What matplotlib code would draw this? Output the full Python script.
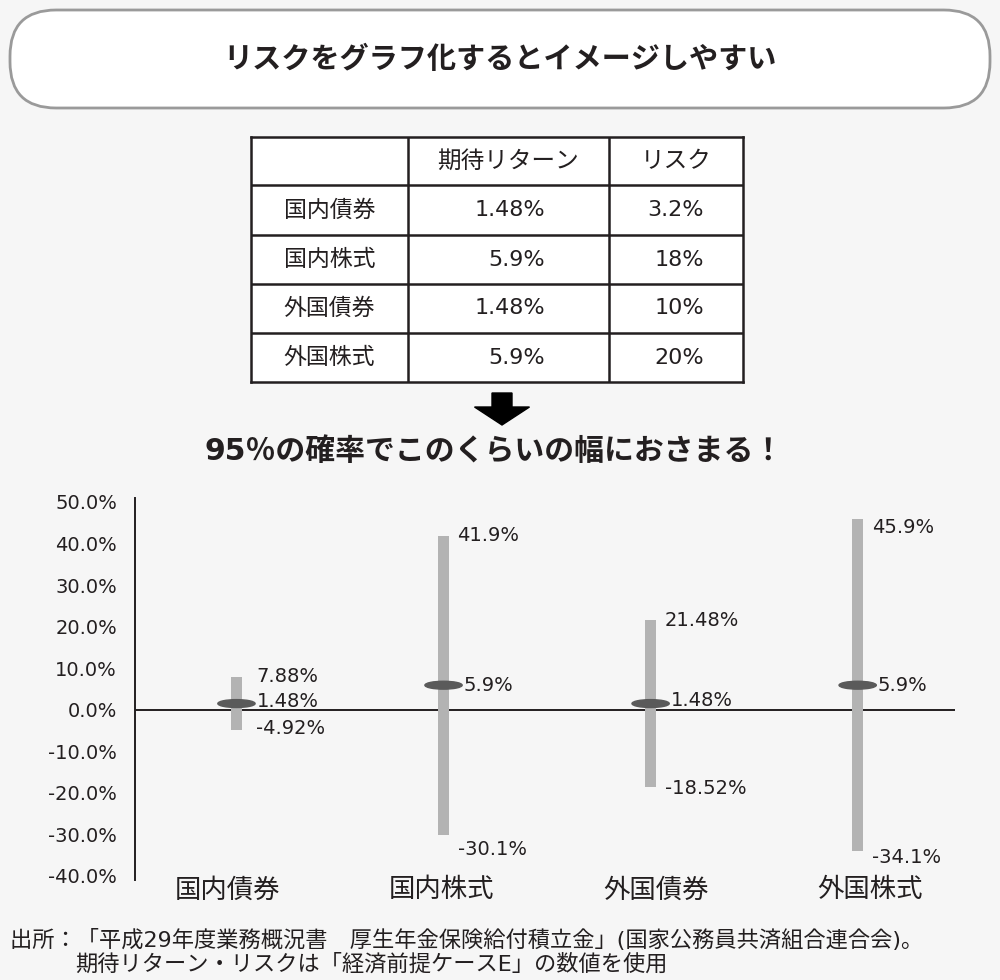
import matplotlib.pyplot as plt
import numpy as np
from matplotlib.patches import Ellipse, FancyBboxPatch

plt.rcParams['font.family'] = ['DejaVu Sans', 'Noto Sans CJK JP']

assets = ["国内債券", "国内株式", "外国債券", "外国株式"]
expected_return = [1.48, 5.9, 1.48, 5.9]
risk = [3.2, 18, 10, 20]
upper = [7.88, 41.9, 21.48, 45.9]
lower = [-4.92, -30.1, -18.52, -34.1]
yticks = [-40, -30, -20, -10, 0, 10, 20, 30, 40, 50]

title = "リスクをグラフ化するとイメージしやすい"
subtitle = "95％の確率でこのくらいの幅におさまる！"
table_header = ["", "期待リターン", "リスク"]
source_lines = ["出所：「平成29年度業務概況書　厚生年金保険給付積立金」(国家公務員共済組合連合会)。",
                "期待リターン・リスクは「経済前提ケースE」の数値を使用"]

ink = "#231f20"
bg_color = "#f6f6f6"

fig = plt.figure(figsize=(10, 9.8), dpi=100, facecolor=bg_color)

# background layer in pixel units (top-left origin)
bg = fig.add_axes([0, 0, 1, 1], zorder=0)
bg.set_xlim(0, 1000)
bg.set_ylim(980, 0)
bg.axis("off")

box = FancyBboxPatch((10, 10), 980, 98, boxstyle="round,pad=0,rounding_size=46",
                     fc="white", ec="#9a9a9a", lw=2)
bg.add_patch(box)
bg.text(500, 60, title, ha="center", va="center", fontsize=21,
        fontweight="bold", color=ink)

bg.arrow(502, 393, 0, 32, width=20, head_width=55, head_length=18,
         length_includes_head=True, fc="black", ec="black")
bg.text(494, 451, subtitle, ha="center", va="center", fontsize=21.5,
        fontweight="bold", color=ink)

bg.text(10, 940, source_lines[0], ha="left", va="center", fontsize=16, color=ink)
bg.text(75, 964, source_lines[1], ha="left", va="center", fontsize=16, color=ink)

# table
tab = fig.add_axes([251 / 1000, 1 - 382 / 980, 492 / 1000, 245 / 980], zorder=1)
tab.set_xlim(0, 492)
tab.set_ylim(245, 0)
tab.set_facecolor("white")
for s in tab.spines.values():
    s.set_color(ink)
    s.set_linewidth(1.8)
tab.set_xticks([])
tab.set_yticks([])
col_edges = [0, 157, 358, 492]
row_edges = [0, 48, 98, 147, 196, 245]
tab.vlines(col_edges[1:-1], 0, 245, color=ink, lw=1.8)
tab.hlines(row_edges[1:-1], 0, 492, color=ink, lw=1.8)
for j, h in enumerate(table_header):
    tab.text((col_edges[j] + col_edges[j + 1]) / 2, row_edges[0] + 24, h,
             ha="center", va="center", fontsize=17, color=ink)
for i, name in enumerate(assets):
    yc = (row_edges[i + 1] + row_edges[i + 2]) / 2
    tab.text((col_edges[0] + col_edges[1]) / 2, yc, name, ha="center",
             va="center", fontsize=16.5, color=ink)
    tab.text(294, yc, f"{expected_return[i]:g}%", ha="right", va="center",
             fontsize=16, color=ink)
    tab.text(453, yc, f"{risk[i]:g}%", ha="right", va="center",
             fontsize=16, color=ink)

# chart
ax = fig.add_axes([0.135, 0.102, 0.82, 0.390], zorder=2)
ax.set_facecolor("none")
ax.set_xlim(-0.49, 3.47)
ax.set_ylim(-41, 51)
for k in ["top", "right", "bottom"]:
    ax.spines[k].set_visible(False)
ax.spines["left"].set_color(ink)
ax.spines["left"].set_linewidth(1.4)
ax.axhline(0, color=ink, lw=1.4, zorder=1)

x = np.arange(len(assets))
lo = np.array(lower)
hi = np.array(upper)
ax.bar(x, hi - lo, bottom=lo, width=0.055, color="#b3b3b3", zorder=2)
for xi, r in zip(x, expected_return):
    ax.add_patch(Ellipse((xi, r), 0.18, 1.9, color="#5a5a5a", zorder=3))

ax.set_yticks(yticks)
ax.set_yticklabels([f"{t:.1f}%" for t in yticks], fontsize=14, color=ink)
ax.tick_params(axis="y", length=0, pad=13)
ax.set_xticks([])

# value labels (pixel offsets from bar ends / means)
top_dx = [20, 14, 14, 14]
top_dy = [0, 0, 0, -8]
mid_dy = [2, 0, 3, 0]
bot_dx = [20, 14, 14, 14]
bot_dy = [2, -15, -2, -6]
for i in range(len(assets)):
    ax.annotate(f"{upper[i]:g}%", (x[i], upper[i]), xytext=(top_dx[i], top_dy[i]),
                textcoords="offset pixels", va="center", ha="left", fontsize=14, color=ink)
    ax.annotate(f"{expected_return[i]:g}%", (x[i], expected_return[i]), xytext=(20, mid_dy[i]),
                textcoords="offset pixels", va="center", ha="left", fontsize=14, color=ink)
    ax.annotate(f"{lower[i]:g}%", (x[i], lower[i]), xytext=(bot_dx[i], bot_dy[i]),
                textcoords="offset pixels", va="center", ha="left", fontsize=14, color=ink)

for i, name in enumerate(assets):
    ax.text(i * 1.035 - 0.045, -43.5, name, ha="center", va="center",
            fontsize=19, color=ink)

fig.savefig("out.png", dpi=100, facecolor=bg_color)
